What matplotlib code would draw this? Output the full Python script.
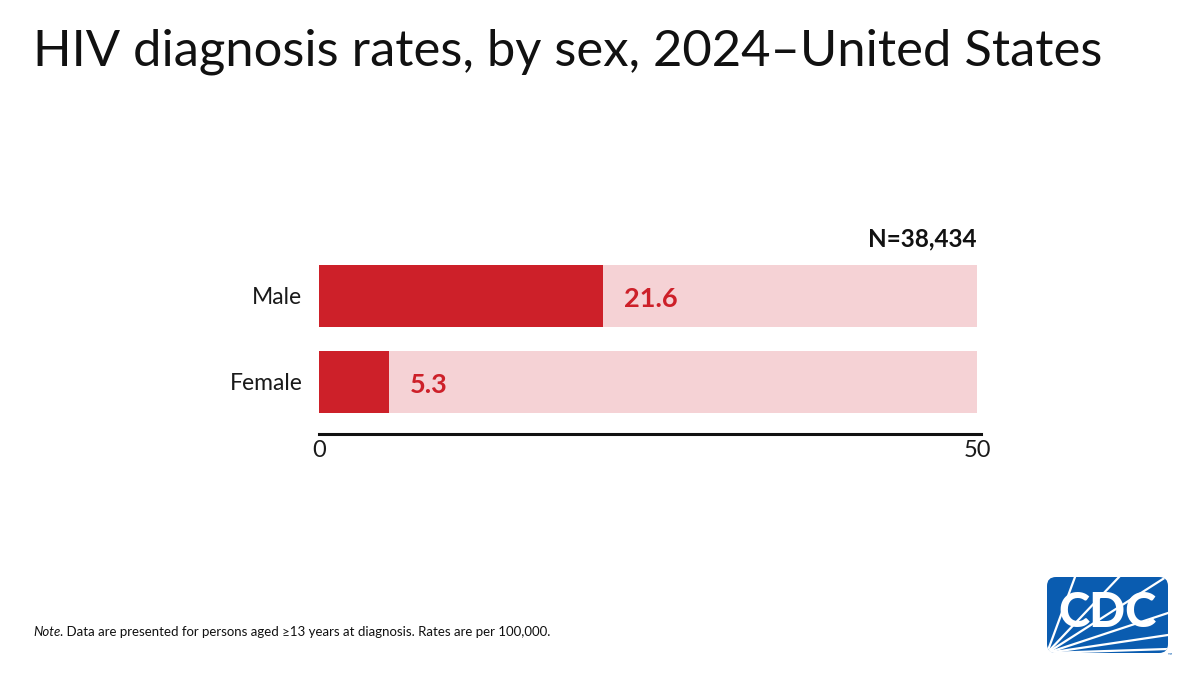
import matplotlib
matplotlib.use("Agg")
import matplotlib.pyplot as plt
from matplotlib.patches import FancyBboxPatch

plt.rcParams['font.family'] = ['Lato', 'DejaVu Sans']

categories = ["Male", "Female"]
rates = [21.6, 5.3]
value_labels = ["21.6", "5.3"]
axis_max = 50
tick_values = [0, 50]
tick_labels = ["0", "50"]
total_label = "N=38,434"
title = "HIV diagnosis rates, by sex, 2024\u2013United States"
note_italic = "Note"
note_rest = ". Data are presented for persons aged \u226513 years at diagnosis. Rates are per 100,000."

RED = "#CD2029"
PINK = "#F5D2D5"
BLUE = "#0A5CB0"
DARK = "#1a1a1a"

fig = plt.figure(figsize=(12, 6.75), dpi=100)
fig.patch.set_facecolor("white")

ax = fig.add_axes([319/1200, (675-434)/675, 658/1200, 169/675])
ypos = [1, 0]
h = 62/86
ax.barh(ypos, [axis_max]*len(categories), height=h, color=PINK, zorder=1)
ax.barh(ypos, rates, height=h, color=RED, zorder=2)
ax.set_xlim(0, axis_max)
ax.set_ylim(-0.605, 1.36)
for y, r, lab in zip(ypos, rates, value_labels):
    ax.annotate(lab, xy=(r, y), xytext=(15, -2), textcoords="offset points",
                ha="left", va="center", color=RED, fontsize=19.5, fontweight="bold")
ax.set_yticks(ypos)
ax.set_yticklabels(categories, fontsize=16.5, color=DARK)
ax.tick_params(axis="y", length=0, pad=12)
ax.set_xticks(tick_values)
ax.set_xticklabels(tick_labels, fontsize=17, color=DARK)
ax.tick_params(axis="x", length=0, pad=4)
for s in ["top", "right", "left"]:
    ax.spines[s].set_visible(False)
ax.spines["bottom"].set_linewidth(2.2)
ax.spines["bottom"].set_color("#111111")
ax.spines["bottom"].set_bounds(0, axis_max * 1.006)
ax.text(axis_max, 1.36 + 0.17, total_label, ha="right", va="bottom",
        fontsize=17.5, fontweight="bold", color="#111111")

fig.text(33/1200, 1 - 52/675, title, fontsize=36.5, ha="left", va="center", color="#111111")

t1 = fig.text(33/1200, 1 - 632/675, note_italic, fontsize=9.5, style="italic",
              ha="left", va="center", color="#111111")
fig.canvas.draw()
ax.annotate(note_rest, xy=(1, 0.5), xycoords=t1, ha="left", va="center",
            fontsize=9.5, color="#111111", annotation_clip=False)

# CDC logo
lax = fig.add_axes([1047/1200, (675-653)/675, 121/1200, 76/675])
lax.set_xlim(0, 121)
lax.set_ylim(0, 76)
lax.axis("off")
box = FancyBboxPatch((0, 0), 121, 76, boxstyle="round,pad=0,rounding_size=9",
                     facecolor=BLUE, edgecolor="none")
lax.add_patch(box)
for ex, ey in [(28, 76), (72, 76), (119, 76), (121, 40), (121, 18), (121, 4)]:
    ln, = lax.plot([0, ex], [0, ey], color="white", lw=1.6)
    ln.set_clip_path(box)
lax.text(60, 40, "CDC", color="white", fontsize=34, fontweight="black",
         ha="center", va="center", family=["Lato", "DejaVu Sans"])
fig.text(1170/1200, 1 - 655/675, "\u2122", fontsize=4, color=BLUE, ha="center", va="center")

fig.savefig("out.png", dpi=100)
